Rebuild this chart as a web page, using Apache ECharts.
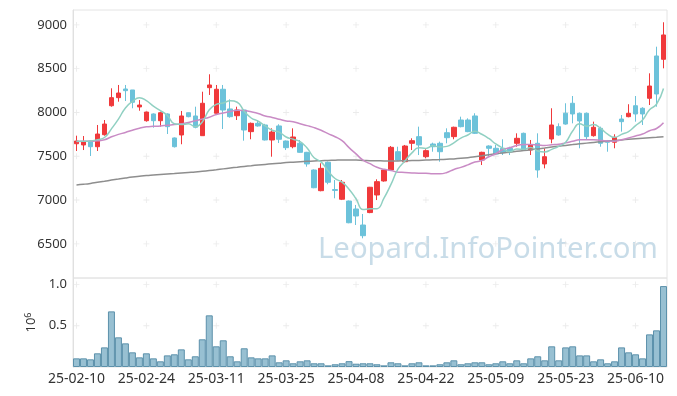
<!DOCTYPE html>
<html>
<head>
<meta charset="utf-8">
<script src="https://cdn.jsdelivr.net/npm/echarts@6/dist/echarts.min.js"></script>
<style>
html,body{margin:0;padding:0;background:#fff;}
#c{width:677px;height:396px;}
</style>
</head>
<body>
<div id="c"></div>
<script>
const dates = ['25-02-10','25-02-11','25-02-12','25-02-13','25-02-14','25-02-17','25-02-18','25-02-19','25-02-20','25-02-21',
'25-02-24','25-02-25','25-02-26','25-02-27','25-02-28','25-03-04','25-03-05','25-03-06','25-03-07','25-03-10',
'25-03-11','25-03-12','25-03-13','25-03-14','25-03-17','25-03-18','25-03-19','25-03-20','25-03-21','25-03-24',
'25-03-25','25-03-26','25-03-27','25-03-28','25-03-31','25-04-01','25-04-02','25-04-03','25-04-04','25-04-07',
'25-04-08','25-04-09','25-04-10','25-04-11','25-04-14','25-04-15','25-04-16','25-04-17','25-04-18','25-04-21',
'25-04-22','25-04-23','25-04-24','25-04-25','25-04-28','25-04-29','25-04-30','25-05-02','25-05-07','25-05-08',
'25-05-09','25-05-12','25-05-13','25-05-14','25-05-15','25-05-16','25-05-19','25-05-20','25-05-21','25-05-22',
'25-05-23','25-05-26','25-05-27','25-05-28','25-05-29','25-05-30','25-06-02','25-06-04','25-06-05','25-06-09',
'25-06-10','25-06-11','25-06-12','25-06-13','25-06-16'];

const opens = [7643,7629,7674,7609,7746,8077,8169,8268,8257,8063,
7906,7983,7906,7983,7709,7743,7997,7960,7735,8283,
7991,8265,8040,7963,8028,7781,7876,7857,7686,7846,
7674,7609,7648,7545,7343,7107,7431,7120,7009,6989,
6898,6715,6857,7058,7218,7343,7552,7438,7648,7724,
7495,7640,7648,7769,7724,7914,7914,7960,7457,7617,
7591,7591,7591,7648,7762,7571,7648,7412,7697,7838,
7991,8105,7991,7991,7735,7819,7678,7660,7925,7952,
8077,8048,8162,8645,8607];
const closes = [7674,7666,7609,7754,7868,8169,8222,8249,8116,8085,
8005,7906,7997,7838,7609,7960,7952,7831,8105,8314,
8265,8028,7952,8028,7800,7876,7846,7686,7777,7694,
7598,7720,7545,7412,7141,7362,7203,7110,7203,6741,
6818,6593,7146,7210,7343,7602,7457,7617,7678,7629,
7564,7609,7552,7712,7831,7838,7781,7762,7545,7591,
7526,7541,7552,7705,7571,7629,7343,7495,7857,7743,
7868,7983,7903,7724,7831,7648,7660,7716,7895,7991,
7983,7983,8302,8211,8885];
const lows = [7560,7571,7503,7560,7735,8066,8123,8131,8048,8020,
7895,7826,7838,7754,7600,7637,7945,7819,7735,8200,
7983,7811,7940,7914,7678,7694,7838,7680,7495,7651,
7571,7591,7540,7381,7135,7100,7180,7020,7000,6735,
6715,6563,6850,7000,7210,7335,7450,7430,7571,7514,
7477,7552,7438,7648,7694,7830,7775,7755,7400,7503,
7520,7514,7514,7609,7565,7514,7255,7362,7648,7735,
7860,7876,7591,7697,7724,7609,7552,7591,7781,7945,
7895,7857,8085,8066,8504];
const highs = [7735,7731,7680,7857,7914,8276,8314,8314,8257,8142,
8010,7990,8009,7990,7715,8017,8000,8066,8237,8436,
8314,8314,8150,8066,8035,7885,7914,7870,7819,7865,
7680,7819,7686,7550,7350,7420,7440,7229,7229,6995,
6944,6841,7150,7237,7350,7617,7609,7629,7705,7838,
7580,7655,7667,7819,7838,7952,7933,7991,7552,7625,
7629,7694,7609,7762,7770,7686,7762,7591,8048,7876,
8105,8188,8000,8000,7895,7838,7686,7751,7971,8094,
8188,8060,8447,8751,9030];

const ma5 = [7670,7672,7675,7690,7714,7813,7924,8052,8125,8168,
8135,8072,8022,7966,7871,7862,7871,7838,7891,8032,
8093,8109,8133,8117,8015,7937,7900,7847,7797,7776,
7720,7695,7667,7594,7483,7436,7333,7246,7204,7124,
7015,6893,6900,6902,7022,7179,7352,7446,7539,7597,
7589,7619,7606,7613,7654,7708,7743,7785,7751,7703,
7641,7593,7551,7583,7579,7600,7560,7549,7579,7613,
7661,7789,7871,7844,7862,7818,7753,7716,7750,7782,
7849,7914,8031,8094,8273];
const ma20 = [7668,7670,7672,7676,7688,7722,7750,7772,7798,7820,
7836,7842,7846,7855,7862,7872,7885,7905,7925,7946,
7976,7994,8011,8025,8022,8007,7988,7960,7943,7923,
7903,7894,7871,7850,7827,7797,7759,7723,7678,7599,
7527,7455,7415,7374,7351,7338,7318,7315,7310,7306,
7305,7299,7300,7315,7349,7373,7402,7434,7451,7494,
7529,7577,7597,7622,7633,7635,7629,7623,7632,7637,
7653,7671,7689,7689,7689,7680,7674,7672,7689,7709,
7732,7754,7792,7817,7883];
const maLong = [7172,7180,7190,7203,7215,7228,7240,7252,7263,7272,
7280,7286,7292,7297,7302,7308,7314,7320,7328,7337,
7346,7356,7366,7375,7384,7392,7400,7407,7414,7421,
7428,7433,7438,7442,7446,7450,7453,7455,7457,7457,
7456,7453,7450,7448,7447,7446,7447,7449,7451,7453,
7456,7459,7462,7466,7470,7476,7484,7494,7505,7517,
7528,7538,7547,7556,7565,7574,7584,7594,7605,7615,
7624,7633,7642,7650,7658,7665,7672,7680,7687,7694,
7700,7706,7712,7718,7724];

const volumes = [105000,105000,93000,166000,238000,675000,360000,287000,178000,117000,
166000,105000,69000,141000,154000,214000,93000,130000,336000,627000,
251000,324000,130000,69000,227000,117000,105000,105000,141000,57000,
81000,45000,69000,81000,45000,45000,20000,33000,45000,71000,
40000,45000,45000,33000,20000,57000,45000,20000,45000,57000,
20000,20000,33000,57000,81000,33000,45000,57000,57000,33000,
45000,69000,45000,81000,45000,105000,130000,81000,251000,81000,
238000,251000,141000,141000,69000,93000,45000,69000,238000,178000,
154000,105000,396000,445000,982000];

const priceTicks = [6500,7000,7500,8000,8500,9000];
const volTicks = [500000,1000000];
const labelEvery = 10;

const candleData = dates.map((d,i)=>[opens[i],closes[i],lows[i],highs[i]]);
const labelIdx = dates.map((d,i)=>i).filter(i=>i%labelEvery===0);
const plusPrice = [];
labelIdx.forEach(i=>priceTicks.forEach(v=>plusPrice.push([i,v])));
const plusVol = [];
labelIdx.forEach(i=>volTicks.forEach(v=>plusVol.push([i,v])));

const plusPath = 'path://M3,0h1v3h3v1h-3v3h-1v-3h-3v-1h3z';
const font = 'Noto Sans';
const chart = echarts.init(document.getElementById('c'), null, {renderer:'canvas'});
chart.setOption({
  animation:false,
  backgroundColor:'#fff',
  grid:[
    {left:73,right:10,top:10,height:268,show:true,borderColor:'#e4e4e4',borderWidth:1,backgroundColor:'transparent'},
    {left:73,right:10,top:278,height:89,show:true,borderColor:'#e4e4e4',borderWidth:1,backgroundColor:'transparent'}
  ],
  graphic:[{
    type:'text', left:318, top:235, z:0, silent:true,
    style:{text:'Leopard.InfoPointer.com', fill:'rgba(160,195,215,0.58)', font:'29.3px "Noto Sans"'}
  }],
  xAxis:[
    {type:'category',gridIndex:0,data:dates,boundaryGap:true,
     axisLine:{show:false},axisTick:{show:false},axisLabel:{show:false},splitLine:{show:false}},
    {type:'category',gridIndex:1,data:dates,boundaryGap:true,
     axisLine:{show:false},axisTick:{show:false},splitLine:{show:false},
     axisLabel:{interval:labelEvery-1,color:'#333',fontSize:14,fontFamily:font,margin:5}}
  ],
  yAxis:[
    {type:'value',gridIndex:0,min:6110,max:9170,
     axisLine:{show:true,lineStyle:{color:'#e0e0e0'}},axisTick:{show:false},splitLine:{show:false},
     axisLabel:{customValues:priceTicks,color:'#333',fontSize:13,fontFamily:font,margin:6,
       formatter:v=>String(v)}},
    {type:'value',gridIndex:1,min:0,max:1080000,
     axisLine:{show:true,lineStyle:{color:'#e0e0e0'}},axisTick:{show:false},splitLine:{show:false},
     axisLabel:{customValues:volTicks,color:'#333',fontSize:13,fontFamily:font,margin:6,
       formatter:v=>(v/1e6).toFixed(1)},
     name:'{a|10}{b|6}',nameLocation:'middle',nameRotate:90,nameGap:33,
     nameTextStyle:{rich:{a:{fontSize:13,color:'#333',fontFamily:font},b:{fontSize:9,color:'#333',fontFamily:font,verticalAlign:'top',padding:[0,0,6,0]}}}}
  ],
  series:[
    {type:'scatter',xAxisIndex:0,yAxisIndex:0,data:plusPrice,symbol:plusPath,symbolSize:6,silent:true,z:1,
     itemStyle:{color:'#e6e6e6'}},
    {type:'scatter',xAxisIndex:1,yAxisIndex:1,data:plusVol,symbol:plusPath,symbolSize:6,silent:true,z:1,
     itemStyle:{color:'#e6e6e6'}},
    {type:'candlestick',xAxisIndex:0,yAxisIndex:0,data:candleData,barWidth:5,z:3,
     itemStyle:{color:'#f0393b',color0:'#6cc2da',borderColor:'#f0393b',borderColor0:'#6cc2da',borderWidth:1}},
    {type:'line',xAxisIndex:0,yAxisIndex:0,data:maLong,smooth:true,symbol:'none',z:4,
     lineStyle:{color:'#8e8e8e',width:1.5}},
    {type:'line',xAxisIndex:0,yAxisIndex:0,data:ma20,smooth:true,symbol:'none',z:4,
     lineStyle:{color:'#c98bc5',width:1.5}},
    {type:'line',xAxisIndex:0,yAxisIndex:0,data:ma5,smooth:true,symbol:'none',z:4,
     lineStyle:{color:'#90d0c2',width:1.5}},
    {type:'bar',xAxisIndex:1,yAxisIndex:1,data:volumes,barWidth:'100%',barCategoryGap:'0%',z:3,
     itemStyle:{color:'#98c0d2',borderColor:'#5c91ab',borderWidth:1}}
  ]
});
</script>
</body>
</html>
